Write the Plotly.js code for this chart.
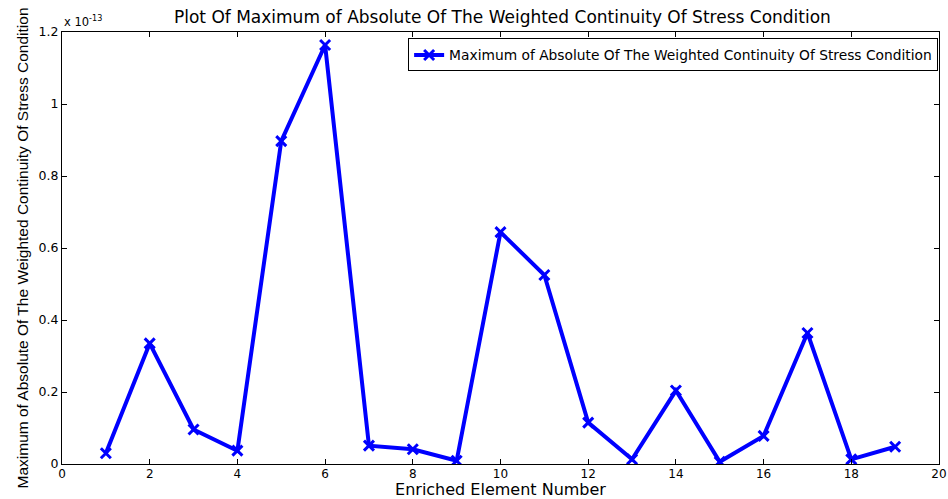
<!DOCTYPE html>
<html>
<head>
<meta charset="utf-8">
<script src="https://cdn.plot.ly/plotly-3.0.1.min.js"></script>
<style>html,body{margin:0;padding:0;background:#fff;}#chart{width:948px;height:499px;}</style>
</head>
<body>
<div id="chart"></div>
<script>
// Enriched element numbers
const elementNumbers = [1,2,3,4,5,6,7,8,9,10,11,12,13,14,15,16,17,18,19];
// Values in units of 1e-13
const maxAbsValues = [0.030,0.335,0.096,0.037,0.897,1.164,0.051,0.041,0.009,0.644,0.525,0.115,0.013,0.204,0.006,0.078,0.364,0.013,0.048];
const xTicks = [0,2,4,6,8,10,12,14,16,18,20];
const yTicks = [0,0.2,0.4,0.6,0.8,1,1.2];
const yTickLabels = ['0','0.2','0.4','0.6','0.8','1','1.2'];

const font = 'DejaVu Sans, Verdana, sans-serif';
const fontNarrow = 'Liberation Sans, Arial, sans-serif';

const trace = {
  x: elementNumbers,
  y: maxAbsValues,
  type: 'scatter',
  mode: 'lines+markers',
  name: 'Maximum of Absolute Of The Weighted Continuity Of Stress Condition',
  line: {color: '#0000ff', width: 4},
  marker: {symbol: 'x-thin', size: 10, color: '#0000ff', line: {color: '#0000ff', width: 3}}
};

const axisCommon = {
  showgrid: false, zeroline: false, showline: true, linecolor: '#000', linewidth: 1,
  mirror: 'ticks', ticks: 'inside', ticklen: 5, tickcolor: '#000',
  tickfont: {family: font, size: 12, color: '#000'}
};

const layout = {
  width: 948, height: 499,
  margin: {l: 62, r: 9, t: 32, b: 35},
  paper_bgcolor: '#fff', plot_bgcolor: '#fff',
  title: {text: 'Plot Of Maximum of Absolute Of The Weighted Continuity Of Stress Condition',
          font: {family: font, size: 17, color: '#000'}, x: 0.53, xanchor: 'center', y: 0.966, yanchor: 'middle'},
  xaxis: Object.assign({}, axisCommon, {
    range: [0, 20], tickvals: xTicks, ticktext: xTicks.map(String), ticklabelstandoff: -1,
    title: {text: 'Enriched Element Number', font: {family: font, size: 16, color: '#000'}, standoff: 4}
  }),
  yaxis: Object.assign({}, axisCommon, {
    range: [0, 1.2], tickvals: yTicks, ticktext: yTickLabels, tickfont: {family: font, size: 12.5, color: '#000'},
    title: {text: 'Maximum of Absolute Of The Weighted Continuity Of Stress Condition', font: {family: fontNarrow, size: 15.5, color: '#000'}, standoff: 6}
  }),
  showlegend: true,
  legend: {x: 0.999, xanchor: 'right', y: 0.985, yanchor: 'top', bordercolor: '#000', borderwidth: 1,
           bgcolor: '#fff', font: {family: font, size: 13.8, color: '#000'}, itemwidth: 30,
           tracegroupgap: 0},
  annotations: [{text: 'x 10<sup>-13</sup>', xref: 'paper', yref: 'paper', x: 0, y: 1, xanchor: 'left', yanchor: 'bottom',
                 showarrow: false, font: {family: font, size: 11.5, color: '#000'}, yshift: 1}]
};

Plotly.newPlot('chart', [trace], layout, {displayModeBar: false});
</script>
</body>
</html>
